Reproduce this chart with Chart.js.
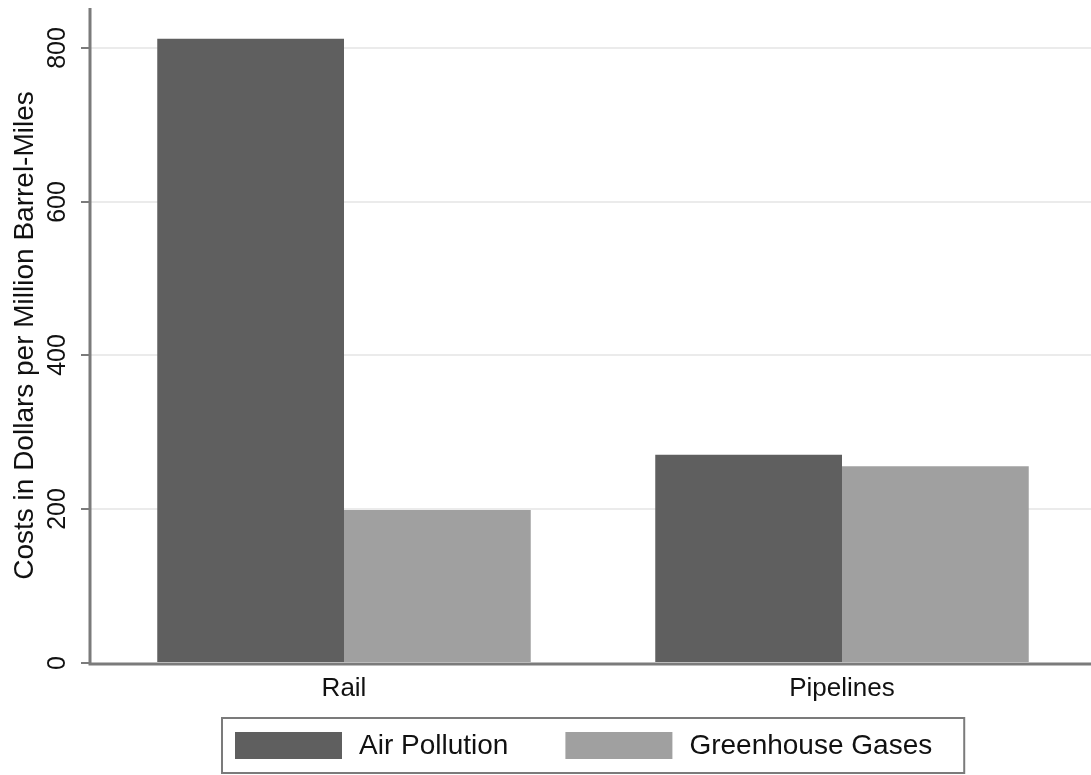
<!DOCTYPE html>
<html>
<head>
<meta charset="utf-8">
<script src="https://cdn.jsdelivr.net/npm/chart.js@4"></script>
<style>
  html, body { margin: 0; padding: 0; background: #fff; }
  #wrap { width: 1091px; height: 775px; }
</style>
</head>
<body>
<div id="wrap"><canvas id="costChart" width="1091" height="775"></canvas></div>
<script>
// Values
const categories = ['Rail', 'Pipelines'];
const airPollution = [812, 271];
const greenhouseGases = [199, 256];
const seriesNames = ['Air Pollution', 'Greenhouse Gases'];
const yMax = 852;
const yStep = 200;
const yTitle = 'Costs in Dollars per Million Barrel-Miles';

const FONT = '"Liberation Sans", Arial, Helvetica, sans-serif';
const AXIS_COLOR = '#7b7b7b';
const GRID_COLOR = '#ebebeb';
const TEXT_COLOR = '#111';

// Axis line sits a few px left of where the plot area starts (Stata style)
const AXIS_X = 90;

const stataFrame = {
    id: 'stataFrame',
    beforeDatasetsDraw(chart) {
        const { ctx, chartArea } = chart;
        const y = chart.scales.y;
        // fill the small gap between the axis line and the grid start
        ctx.save();
        ctx.strokeStyle = GRID_COLOR;
        ctx.lineWidth = 2;
        y.ticks.forEach(t => {
            if (t.value === 0) return;
            const py = Math.round(y.getPixelForValue(t.value));
            ctx.beginPath();
            ctx.moveTo(AXIS_X, py);
            ctx.lineTo(chartArea.left, py);
            ctx.stroke();
        });
        ctx.restore();
    },
    afterDraw(chart) {
        const { ctx, chartArea } = chart;
        const y = chart.scales.y;
        ctx.save();

        // axes
        ctx.strokeStyle = AXIS_COLOR;
        ctx.lineWidth = 3;
        ctx.beginPath();
        ctx.moveTo(AXIS_X, chartArea.top);
        ctx.lineTo(AXIS_X, chartArea.bottom + 1);
        ctx.lineTo(chart.width, chartArea.bottom + 1);
        ctx.stroke();

        // y tick marks + rotated labels
        ctx.lineWidth = 2;
        ctx.fillStyle = TEXT_COLOR;
        ctx.font = `25px ${FONT}`;
        ctx.textAlign = 'center';
        ctx.textBaseline = 'middle';
        y.ticks.forEach(t => {
            const py = Math.round(y.getPixelForValue(t.value));
            ctx.beginPath();
            ctx.moveTo(AXIS_X - 9, py);
            ctx.lineTo(AXIS_X, py);
            ctx.stroke();
            ctx.save();
            ctx.translate(58, py);
            ctx.rotate(-Math.PI / 2);
            ctx.fillText(String(t.value), 0, 0);
            ctx.restore();
        });

        // legend with a frame
        ctx.font = `28px ${FONT}`;
        ctx.textAlign = 'left';
        const items = chart.data.datasets.map(ds => ({
            label: ds.label,
            color: ds.backgroundColor,
            w: ctx.measureText(ds.label).width
        }));
        const swW = 107, swH = 27, gapText = 17, itemGap = 57, padL = 13, padR = 32;
        let total = padL + padR + itemGap * (items.length - 1);
        items.forEach(it => { total += swW + gapText + it.w; });
        const boxLeft = Math.round((chartArea.left + chartArea.right) / 2 - total / 2);
        const boxTop = 718, boxH = 55;
        ctx.strokeStyle = AXIS_COLOR;
        ctx.lineWidth = 2;
        ctx.strokeRect(boxLeft, boxTop, total, boxH);
        let x = boxLeft + padL;
        const cy = boxTop + boxH / 2;
        items.forEach(it => {
            ctx.fillStyle = it.color;
            ctx.fillRect(x, cy - swH / 2, swW, swH);
            x += swW + gapText;
            ctx.fillStyle = TEXT_COLOR;
            ctx.fillText(it.label, x, cy + 1);
            x += it.w + itemGap;
        });

        ctx.restore();
    }
};

const chart = new Chart(document.getElementById('costChart').getContext('2d'), {
    type: 'bar',
    data: {
        labels: categories,
        datasets: [
            {
                label: seriesNames[0],
                data: airPollution,
                backgroundColor: '#5f5f5f',
                borderWidth: 0
            },
            {
                label: seriesNames[1],
                data: greenhouseGases,
                backgroundColor: '#a0a0a0',
                borderWidth: 0
            }
        ]
    },
    options: {
        responsive: false,
        animation: false,
        devicePixelRatio: 1,
        layout: { padding: { top: 8, right: 0, bottom: 0, left: 0 } },
        datasets: {
            bar: { categoryPercentage: 0.75, barPercentage: 1.0 }
        },
        plugins: {
            legend: { display: false },
            tooltip: { enabled: false }
        },
        scales: {
            x: {
                grid: { display: false, drawTicks: false },
                border: { display: false },
                ticks: {
                    color: TEXT_COLOR,
                    font: { family: FONT, size: 26 },
                    padding: 10
                },
                afterFit(scale) { scale.height = 112; }
            },
            y: {
                min: 0,
                max: yMax,
                border: { display: false },
                grid: {
                    color: (c) => c.tick && c.tick.value === 0 ? 'rgba(0,0,0,0)' : GRID_COLOR,
                    lineWidth: 2,
                    drawTicks: false
                },
                ticks: {
                    display: false,
                    stepSize: yStep,
                    includeBounds: false
                },
                title: {
                    display: true,
                    text: yTitle,
                    color: TEXT_COLOR,
                    font: { family: FONT, size: 28 },
                    padding: { top: 8, bottom: 0 }
                },
                afterFit(scale) { scale.width = 95; }
            }
        }
    },
    plugins: [stataFrame]
});
</script>
</body>
</html>
